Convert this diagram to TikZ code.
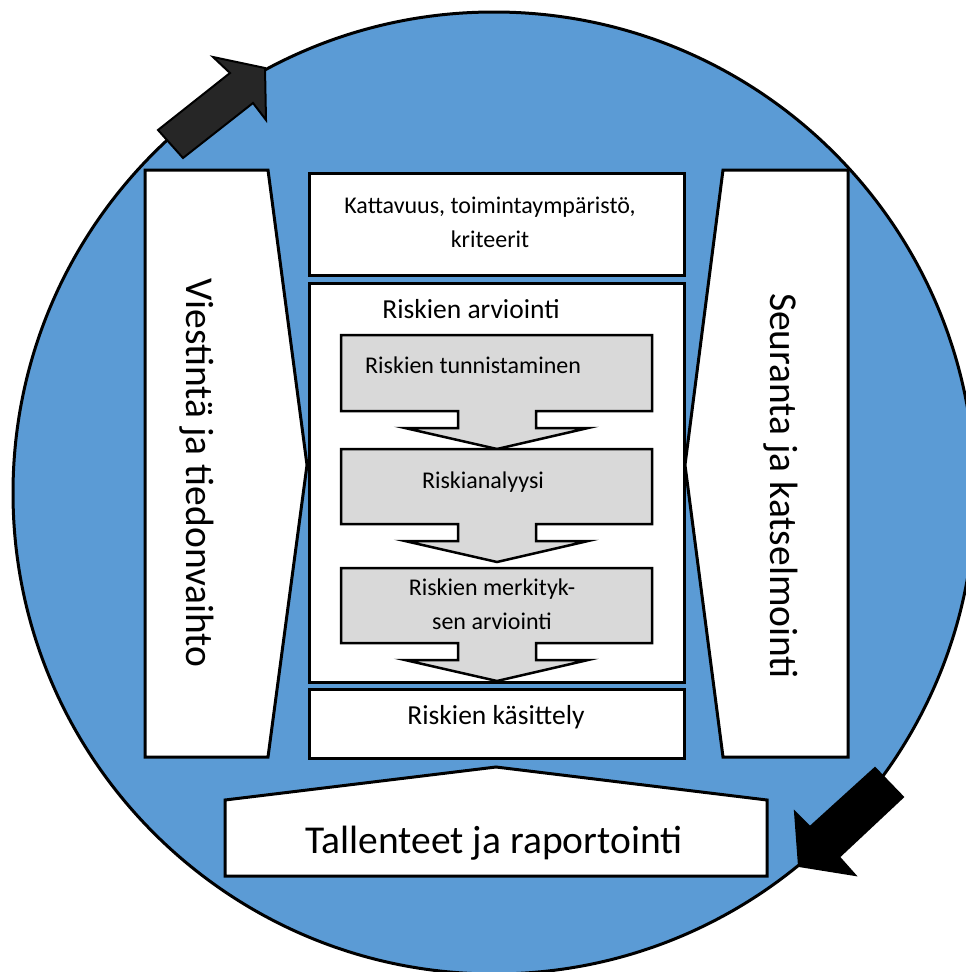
\documentclass[tikz,border=0pt]{standalone}
\usepackage{fontspec}
\setmainfont{Carlito}
\usetikzlibrary{positioning}
\definecolor{circleblue}{HTML}{5B9BD5}
\definecolor{stepgray}{HTML}{D9D9D9}
\definecolor{arrowdark}{HTML}{262626}

\begin{document}
\begin{tikzpicture}[x=1pt, y=-1pt,
    panel/.style={draw, line width=3pt, fill=white, line join=miter},
    box/.style={rectangle, draw, line width=3pt, fill=white, inner sep=0pt},
    stepshape/.style={draw, line width=2.5pt, fill=stepgray, line join=miter},
    blockarrow/.style={draw, line width=2pt, line join=miter},
    txt/.style={font=\fontsize{24}{34}\selectfont, anchor=base, inner sep=0pt},
    headtxt/.style={font=\fontsize{27.5}{32}\selectfont, anchor=base, inner sep=0pt},
    sidetxt/.style={font=\fontsize{39.5}{44}\selectfont, rotate=-90, inner sep=0pt},
    bigtxt/.style={font=\fontsize{39.5}{44}\selectfont, anchor=base, inner sep=0pt}
]
\useasboundingbox (0,0) rectangle (966,972);
\clip (0,0) rectangle (966,972);

\draw[line width=3pt, fill=circleblue] (494,493) circle [radius=481];

\draw[blockarrow, fill=arrowdark] (158,130) -- (230,73) -- (213,57) -- (265,68) -- (266,120) -- (253,103) -- (183,158) -- cycle;
\draw[blockarrow, fill=black] (875,768) -- (903,797) -- (839,857) -- (855,875) -- (799,866) -- (795,812) -- (810,827) -- cycle;

\draw[panel] (145,170) -- (268,170) -- (307,465) -- (268,757) -- (145,757) -- cycle;
\draw[panel] (848,170) -- (723,170) -- (685,465) -- (723,757) -- (848,757) -- cycle;
\draw[panel] (225,800) -- (496,767) -- (767,800) -- (767,876) -- (225,876) -- cycle;

\node[sidetxt] (viestinta) at (197,473) {Viestintä ja tiedonvaihto};
\node[sidetxt] (seuranta) at (781,486) {Seuranta ja katselmointi};
\node[bigtxt] (tallenteet) at (494,853) {Tallenteet ja raportointi};

\node[box, minimum width=375pt, minimum height=102pt] (scope) at (496.5,224) {};
\node[box, minimum width=375pt, minimum height=399pt] (assess) at (496.5,482.5) {};
\node[box, minimum width=375pt, minimum height=69pt] (treat) at (496.5,723.5) {};

\node[txt] (scopetxt) at (490,213) {Kattavuus, toimintaympäristö,};
\node[txt] (scopetxt2) at (490,247) {kriteerit};
\node[headtxt] (assesstxt) at (471,318) {Riskien arviointi};
\node[headtxt] (treattxt) at (496,724) {Riskien käsittely};

\foreach \t/\b in {335/411, 449/524, 568/643}
  \draw[stepshape] (341,\t) -- (652,\t) -- (652,\b) -- (536,\b) -- (536,\b+17) -- (588,\b+17)
    -- (497,\b+38) -- (405,\b+17) -- (458,\b+17) -- (458,\b) -- (341,\b) -- cycle;

\node[txt, anchor=base west] (identify) at (365,373) {Riskien tunnistaminen};
\node[txt] (analysis) at (483,488) {Riskianalyysi};
\node[txt] (evaluate) at (492,595) {Riskien merkityk-};
\node[txt] (evaluate2) at (492,629) {sen arviointi};

\end{tikzpicture}
\end{document}
